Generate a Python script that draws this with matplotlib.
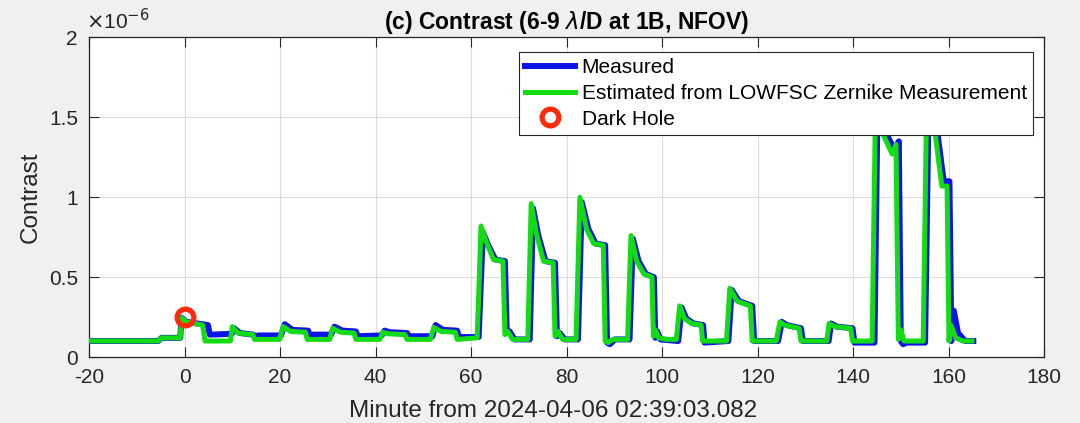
import matplotlib
matplotlib.use("Agg")
import matplotlib.pyplot as plt
from matplotlib.ticker import FixedLocator

plt.rcParams['font.family'] = ['Liberation Sans', 'DejaVu Sans']
plt.rcParams['mathtext.fontset'] = 'dejavusans'

# Contrast values are in units of 1e-6
t_measured = [-20, -5.5, -4.8, -0.9, -0.6, 0.4, 4.9, 5.3, 9.9, 10.4, 11.6, 14.4, 14.8, 15.4,
              20.2, 21.0, 22.6, 25.9, 26.3, 26.9, 30.7, 31.4, 33.1, 35.9, 36.3, 41.3, 41.9,
              43.1, 46.6, 47.0, 51.9, 52.6, 54.1, 57.1, 57.5, 61.6, 62.5, 63.6, 65.1, 67.1,
              67.5, 68.1, 69.1, 72.3, 73.0, 74.1, 75.6, 77.6, 78.0, 78.6, 79.6, 82.4, 83.2,
              84.6, 86.1, 88.1, 88.5, 89.1, 90.1, 93.2, 93.9, 95.1, 96.6, 98.3, 98.6, 99.0,
              99.7, 103.4, 104.1, 105.1, 106.6, 108.6, 108.9, 113.9, 114.6, 116.1, 118.9,
              119.3, 124.3, 125.1, 126.1, 129.1, 129.5, 134.9, 135.4, 136.6, 139.9, 140.3,
              144.5, 145.2, 146.6, 148.6, 149.6, 150.0, 150.5, 151.2, 155.1, 155.9, 157.6,
              159.0, 160.2, 160.6, 161.1, 162.0, 163.5, 165.2]
c_measured = [0.10, 0.10, 0.12, 0.12, 0.245, 0.22, 0.20, 0.14, 0.145, 0.18, 0.15, 0.14, 0.115,
              0.135, 0.135, 0.205, 0.17, 0.165, 0.125, 0.14, 0.14, 0.19, 0.165, 0.16, 0.13,
              0.135, 0.165, 0.155, 0.15, 0.13, 0.13, 0.20, 0.17, 0.165, 0.125, 0.125, 0.78,
              0.70, 0.61, 0.60, 0.15, 0.16, 0.11, 0.11, 0.93, 0.76, 0.60, 0.59, 0.13, 0.15,
              0.11, 0.11, 0.97, 0.80, 0.71, 0.70, 0.09, 0.08, 0.11, 0.11, 0.74, 0.60, 0.52,
              0.50, 0.12, 0.16, 0.11, 0.10, 0.31, 0.24, 0.21, 0.20, 0.09, 0.10, 0.42, 0.35,
              0.32, 0.10, 0.10, 0.22, 0.20, 0.18, 0.10, 0.10, 0.21, 0.19, 0.18, 0.09, 0.09,
              1.72, 1.42, 1.30, 1.35, 0.10, 0.08, 0.09, 0.09, 1.72, 1.42, 1.10, 1.10, 0.10,
              0.29, 0.15, 0.10, 0.10]

t_estimated = [-20, -5.5, -4.8, -0.9, -0.6, 0.4, 3.8, 4.3, 9.6, 10.0, 11.2, 14.3, 14.7, 19.9,
               20.7, 22.2, 25.3, 25.7, 30.4, 31.0, 32.7, 35.5, 35.9, 40.9, 41.5, 42.7, 46.2,
               46.6, 51.5, 52.2, 53.7, 56.7, 57.1, 61.3, 62.1, 63.2, 64.7, 66.7, 67.1, 67.7,
               68.7, 71.9, 72.6, 73.7, 75.2, 77.2, 77.6, 78.2, 79.2, 82.0, 82.8, 84.2, 85.7,
               87.7, 88.1, 88.7, 89.7, 92.8, 93.5, 94.7, 96.2, 97.9, 98.2, 98.6, 99.3, 101.0,
               103.0, 103.7, 104.7, 106.2, 108.2, 108.5, 113.5, 114.2, 115.7, 118.5, 118.9,
               123.9, 124.7, 125.7, 128.7, 129.1, 134.5, 135.0, 136.2, 139.5, 139.9, 144.0,
               144.8, 146.2, 148.2, 149.0, 149.5, 150.0, 150.7, 154.7, 155.5, 157.2, 158.6,
               159.7, 160.1, 160.5, 161.5, 163.0, 164.9]
c_estimated = [0.10, 0.10, 0.12, 0.12, 0.245, 0.22, 0.20, 0.10, 0.10, 0.19, 0.15, 0.14, 0.11,
               0.11, 0.19, 0.16, 0.155, 0.11, 0.11, 0.18, 0.155, 0.15, 0.11, 0.11, 0.155,
               0.145, 0.14, 0.11, 0.11, 0.185, 0.16, 0.155, 0.11, 0.12, 0.82, 0.72, 0.61,
               0.60, 0.14, 0.16, 0.11, 0.11, 0.96, 0.77, 0.60, 0.59, 0.13, 0.16, 0.11, 0.11,
               1.00, 0.80, 0.71, 0.70, 0.10, 0.09, 0.11, 0.11, 0.76, 0.60, 0.52, 0.50, 0.13,
               0.17, 0.12, 0.11, 0.11, 0.32, 0.24, 0.21, 0.20, 0.10, 0.10, 0.43, 0.35, 0.32,
               0.10, 0.10, 0.22, 0.20, 0.18, 0.10, 0.10, 0.21, 0.19, 0.18, 0.10, 0.10, 1.75,
               1.40, 1.27, 1.33, 0.11, 0.17, 0.10, 0.10, 1.75, 1.40, 1.07, 1.07, 0.10, 0.20,
               0.12, 0.10, 0.10]

t_dark_hole = [0.0]
c_dark_hole = [0.25]

x_ticks = [-20, 0, 20, 40, 60, 80, 100, 120, 140, 160, 180]
y_ticks = [0, 0.5, 1, 1.5, 2]
y_tick_labels = ['0', '0.5', '1', '1.5', '2']

W, H = 1080, 423
fig = plt.figure(figsize=(W / 100, H / 100), dpi=100, facecolor='#f0f0f0')
ax_l, ax_r, ax_b, ax_t = 89, 1044, 357, 37.5
ax = fig.add_axes([ax_l / W, 1 - ax_b / H, (ax_r - ax_l) / W, (ax_b - ax_t) / H])
ax.set_facecolor('white')

ax.plot(t_measured, c_measured, color='#0a14e6', lw=4.3, solid_joinstyle='round',
        label='Measured', zorder=3)
ax.plot(t_estimated, c_estimated, color='#14dc14', lw=3.6, solid_joinstyle='round',
        label='Estimated from LOWFSC Zernike Measurement', zorder=4)
ax.plot(t_dark_hole, c_dark_hole, linestyle='none', marker='o', ms=12, mew=3.8,
        mfc='none', mec='#ff2a0a', label='Dark Hole', zorder=5)

ax.set_xlim(-20, 180)
ax.set_ylim(0, 2)
ax.xaxis.set_major_locator(FixedLocator(x_ticks))
ax.set_yticks(y_ticks)
ax.set_yticklabels(y_tick_labels)
ax.set_xticklabels([str(v) for v in x_ticks])

ax.grid(True, color='#dcdcdc', lw=0.8)
ax.set_axisbelow(True)
for s in ax.spines.values():
    s.set_color('#262626')
    s.set_linewidth(0.9)
ax.tick_params(direction='in', length=7, width=0.8, color='#262626',
               top=True, right=True, labelsize=15, labelcolor='#262626', pad=8)

ax.set_xlabel('Minute from 2024-04-06 02:39:03.082', fontsize=17.5, color='#262626')
ax.xaxis.set_label_coords(0.486, -0.135)
ax.set_ylabel('Contrast', fontsize=17.5, color='#262626', labelpad=5)
ax.set_title(r'(c) Contrast (6-9 $\lambda$/D at 1B, NFOV)', fontsize=16.5, fontweight='bold',
             color='black', pad=6)
ax.text(-0.003, 1.015, r'$\times$10$^{-6}$', transform=ax.transAxes, fontsize=15,
        color='#262626', ha='left', va='bottom')

leg = ax.legend(loc='upper right',
                bbox_to_anchor=((1033 - ax_l) / (ax_r - ax_l), (ax_b - 52) / (ax_b - ax_t)),
                borderaxespad=0, fontsize=15, frameon=True, fancybox=False, framealpha=1,
                edgecolor='#262626', handlelength=2.4, handletextpad=0.3,
                labelspacing=0.32, borderpad=0.3, labelcolor='black')
leg.get_frame().set_linewidth(0.8)
leg.set_zorder(10)

fig.savefig('out.png', dpi=100, facecolor=fig.get_facecolor())
